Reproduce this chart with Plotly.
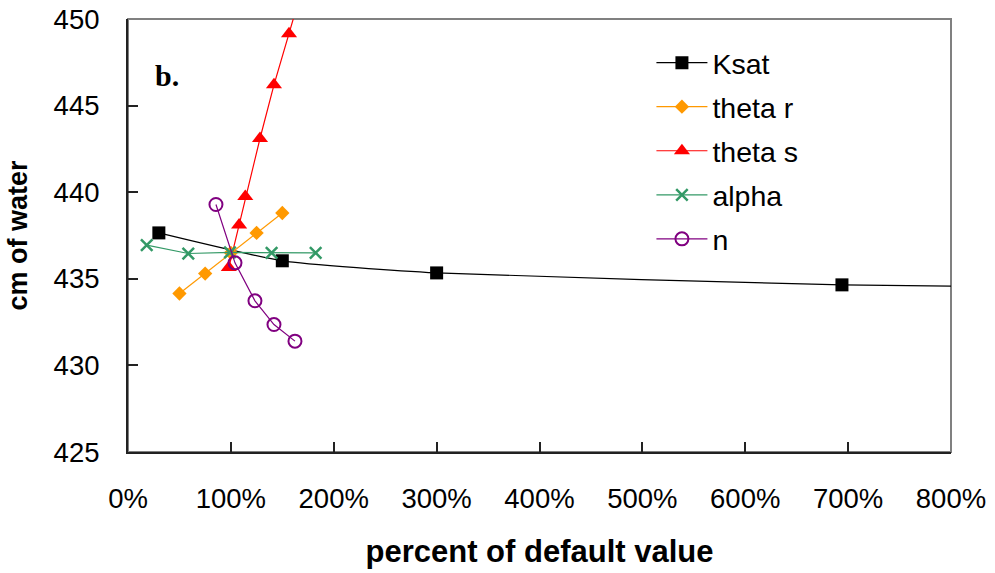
import plotly.graph_objects as go

# Sensitivity of the result (cm of water) to each van Genuchten / hydraulic parameter,
# expressed as percent of the parameter's default value.
ksat_x = [30, 150, 300, 694, 1000]
ksat_y = [437.65, 436.04, 435.34, 434.65, 434.45]

theta_r_x = [50, 75, 100, 125, 150]
theta_r_y = [434.15, 435.3, 436.5, 437.65, 438.8]

theta_s_x = [98, 108, 114, 128.3, 141.9, 156.5, 170]
theta_s_y = [435.65, 438.1, 439.75, 443.1, 446.2, 449.15, 451.9]

alpha_x = [18.2, 58.6, 99.1, 139.6, 182.4]
alpha_y = [436.94, 436.46, 436.52, 436.5, 436.5]

n_x = [85.5, 104, 123.4, 141.9, 162.3]
n_y = [439.29, 435.92, 433.73, 432.36, 431.4]

x_ticks = [0, 100, 200, 300, 400, 500, 600, 700, 800]
y_ticks = [425, 430, 435, 440, 445, 450]

fig = go.Figure()

fig.add_trace(go.Scatter(
    x=ksat_x, y=ksat_y, name="Ksat", mode="lines+markers",
    line=dict(color="black", width=1.2, shape="spline", smoothing=0.5),
    marker=dict(symbol="square", size=13, color="black"),
    legendgroup="g1",
))
fig.add_trace(go.Scatter(
    x=theta_r_x, y=theta_r_y, name="theta r", mode="lines+markers",
    line=dict(color="#FF9900", width=1.2),
    marker=dict(symbol="diamond", size=11, color="#FF9900"),
    legendgroup="g2",
))
fig.add_trace(go.Scatter(
    x=theta_s_x, y=theta_s_y, name="theta s", mode="lines+markers",
    line=dict(color="#FF0000", width=1.2),
    marker=dict(symbol="triangle-up", size=14, color="#FF0000"),
    legendgroup="g3",
))
fig.add_trace(go.Scatter(
    x=alpha_x, y=alpha_y, name="alpha", mode="lines+markers",
    line=dict(color="#339966", width=1.2),
    marker=dict(symbol="x-thin", size=11.5, color="#339966",
                line=dict(color="#339966", width=2.5)),
    legendgroup="g4",
))
fig.add_trace(go.Scatter(
    x=n_x, y=n_y, name="n", mode="lines+markers",
    line=dict(color="#800080", width=1.2),
    marker=dict(symbol="circle-open", size=13, color="#800080",
                line=dict(color="#800080", width=2)),
    legendgroup="g5",
))

tick_font = dict(family="Liberation Sans, Arial, sans-serif", size=27.5, color="black")
title_font = dict(family="Liberation Sans, Arial, sans-serif", size=31, color="black", weight="bold")

fig.update_layout(
    width=995, height=573,
    margin=dict(l=128, r=44, t=19, b=121, autoexpand=False),
    paper_bgcolor="white", plot_bgcolor="white",
    showlegend=True,
    legend=dict(
        x=0.636, y=0.957, xanchor="left", yanchor="top",
        font=dict(family="Liberation Sans, Arial, sans-serif", size=28.5, color="black"),
        bgcolor="rgba(0,0,0,0)", itemwidth=51, traceorder="grouped",
        tracegroupgap=4,
    ),
    shapes=[dict(
        type="rect", xref="paper", yref="paper", x0=0, y0=0, x1=1, y1=1,
        line=dict(color="#808080", width=2), layer="below",
    )],
    annotations=[dict(
        text="<b>b.</b>", x=24, y=446.75, xref="x", yref="y",
        xanchor="left", yanchor="middle", showarrow=False,
        font=dict(family="Liberation Serif, Times New Roman, serif", size=30, color="black"),
    )],
)

fig.update_xaxes(
    range=[0, 800], tickvals=x_ticks, ticktext=[f"{v}%" for v in x_ticks],
    ticks="inside", ticklen=10, tickwidth=1.5, tickcolor="#222",
    showline=True, linecolor="#222", linewidth=2,
    showgrid=False, zeroline=False, tickfont=tick_font,
    ticklabelstandoff=21, automargin=False,
    title=dict(text="percent of default value", font=title_font, standoff=27),
)
fig.update_yaxes(
    range=[425, 450], tickvals=y_ticks,
    ticks="inside", ticklen=10, tickwidth=1.5, tickcolor="#222",
    showline=True, linecolor="#222", linewidth=2,
    showgrid=False, zeroline=False, tickfont=tick_font,
    ticklabelstandoff=21, automargin=False,
    title=dict(text="cm of water", font=dict(family="Liberation Sans, Arial, sans-serif",
                                             size=27, color="black", weight="bold"),
               standoff=18),
)

fig.write_html("out.html")
